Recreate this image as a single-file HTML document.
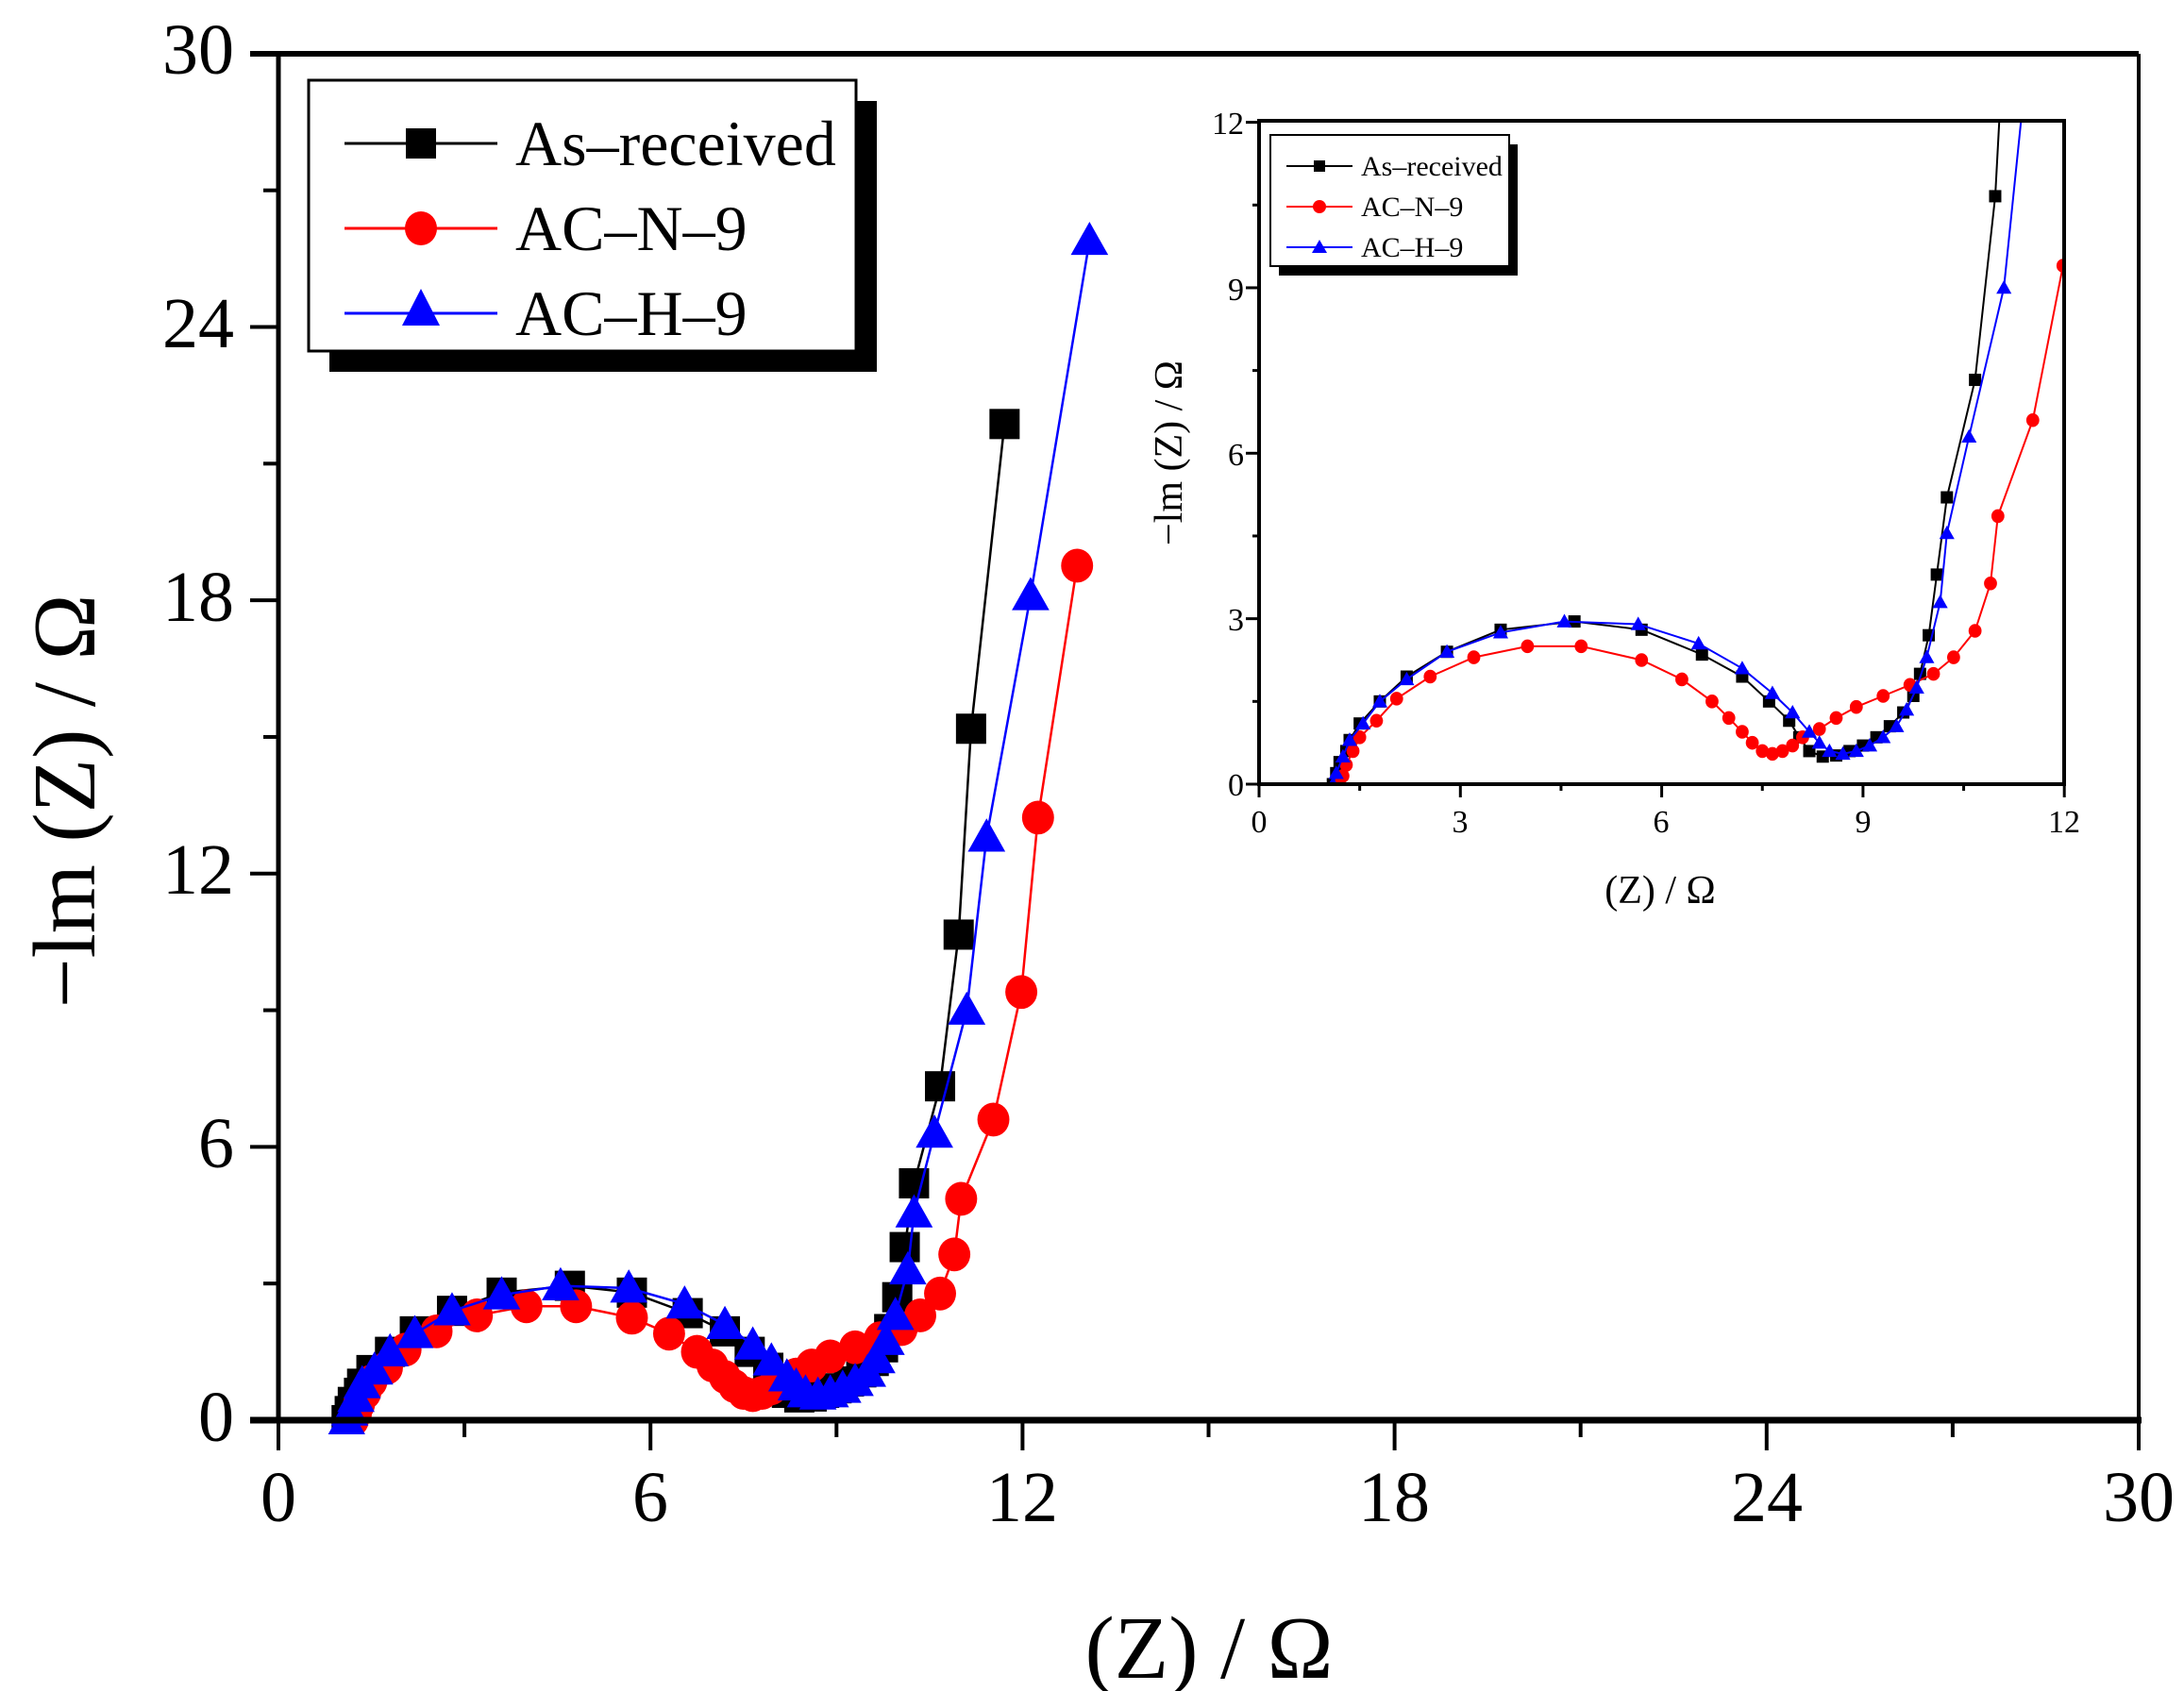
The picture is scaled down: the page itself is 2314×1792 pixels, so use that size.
<!DOCTYPE html>
<html><head><meta charset="utf-8"><style>
html,body{margin:0;padding:0;background:#fff}
svg{display:block}
text{font-family:"Liberation Serif",serif}
</style></head><body>
<svg id="s" width="2314" height="1792" viewBox="0 0 2314 1792" xmlns="http://www.w3.org/2000/svg">
<defs>
<clipPath id="mc"><rect x="295" y="40" width="1971" height="1480"/></clipPath>
<clipPath id="ic"><rect x="1334" y="128" width="853" height="703"/></clipPath>
</defs>
<g id="main"></g>
<!-- main axes -->
<g stroke="#000" fill="none">
<line x1="265" y1="57" x2="2266" y2="57" stroke-width="6"/>
<line x1="295" y1="57" x2="295" y2="1508" stroke-width="5"/>
<line x1="2266" y1="57" x2="2266" y2="1508" stroke-width="4"/>
<line x1="265" y1="1505" x2="2269" y2="1505" stroke-width="7"/>
</g>
<g id="mticks" stroke="#000" stroke-width="4"></g>
<g font-size="76" fill="#000" text-anchor="end">
<text x="248" y="78">30</text><text x="248" y="368">24</text><text x="248" y="658">18</text>
<text x="248" y="947">12</text><text x="248" y="1237">6</text><text x="248" y="1527">0</text>
</g>
<g font-size="76" fill="#000" text-anchor="middle">
<text x="295" y="1612">0</text><text x="689" y="1612">6</text><text x="1083" y="1612">12</text>
<text x="1477" y="1612">18</text><text x="1872" y="1612">24</text><text x="2266" y="1612">30</text>
</g>
<text x="1281" y="1778" font-size="94" text-anchor="middle">(Z) / Ω</text>
<text transform="translate(100,849) rotate(-90)" font-size="94" text-anchor="middle">−lm (Z) / Ω</text>
<!-- main legend -->
<rect x="349" y="107" width="580" height="287" fill="#000"/>
<rect x="327" y="85" width="580" height="287" fill="#fff" stroke="#000" stroke-width="3"/>
<line x1="365" y1="152" x2="527" y2="152" stroke="#000" stroke-width="3"/>
<rect x="430" y="136" width="32" height="32" fill="#000"/>
<line x1="365" y1="242" x2="527" y2="242" stroke="#f00" stroke-width="3"/>
<ellipse cx="446" cy="242" rx="17" ry="18" fill="#f00"/>
<line x1="365" y1="332" x2="527" y2="332" stroke="#00f" stroke-width="3"/>
<polygon points="446,306 466,345 426,345" fill="#00f"/>
<g font-size="68" fill="#000">
<text x="546" y="175">As–received</text>
<text x="546" y="265">AC–N–9</text>
<text x="546" y="355">AC–H–9</text>
</g>
<!-- inset -->
<g id="inset"></g>
<rect x="1334" y="128" width="853" height="703" fill="none" stroke="#000" stroke-width="4"/>
<g id="iticks" stroke="#000" stroke-width="3"></g>
<g font-size="34" fill="#000" text-anchor="end">
<text x="1318" y="142">12</text><text x="1318" y="318">9</text><text x="1318" y="493">6</text>
<text x="1318" y="668">3</text><text x="1318" y="843">0</text>
</g>
<g font-size="34" fill="#000" text-anchor="middle">
<text x="1334" y="882">0</text><text x="1547" y="882">3</text><text x="1760" y="882">6</text>
<text x="1974" y="882">9</text><text x="2187" y="882">12</text>
</g>
<text x="1759" y="957" font-size="42" text-anchor="middle">(Z) / Ω</text>
<text transform="translate(1252,480) rotate(-90)" font-size="42" text-anchor="middle">−lm (Z) / Ω</text>
<rect x="1355" y="153" width="253" height="139" fill="#000"/>
<rect x="1346" y="143" width="253" height="139" fill="#fff" stroke="#000" stroke-width="2"/>
<line x1="1363" y1="176" x2="1433" y2="176" stroke="#000" stroke-width="2"/>
<rect x="1392" y="170" width="12" height="12" fill="#000"/>
<line x1="1363" y1="219" x2="1433" y2="219" stroke="#f00" stroke-width="2"/>
<circle cx="1398" cy="219" r="7" fill="#f00"/>
<line x1="1363" y1="262" x2="1433" y2="262" stroke="#00f" stroke-width="2"/>
<polygon points="1398,254 1406,268 1390,268" fill="#00f"/>
<g font-size="30" fill="#000">
<text x="1442" y="186">As–received</text>
<text x="1442" y="229">AC–N–9</text>
<text x="1442" y="272">AC–H–9</text>
</g>
</svg>
<script>
var NS="http://www.w3.org/2000/svg";
function el(p,n,a){var e=document.createElementNS(NS,n);for(var k in a)e.setAttribute(k,a[k]);p.appendChild(e);return e;}
var black=[[1.1,0],[1.15,.2],[1.2,.4],[1.3,.6],[1.35,.8],[1.5,1.1],[1.8,1.5],[2.2,1.95],[2.8,2.4],[3.6,2.8],[4.7,2.95],[5.7,2.8],[6.6,2.35],[7.2,1.95],[7.6,1.5],[7.9,1.15],[8.05,.85],[8.2,.6],[8.4,.5],[8.6,.52],[8.8,.6],[9.0,.7],[9.2,.85],[9.4,1.05],[9.6,1.3],[9.75,1.6],[9.85,2.0],[9.98,2.7],[10.1,3.8],[10.25,5.2],[10.67,7.33],[10.97,10.66],[11.17,15.18],[11.71,21.87]];
var red=[[1.2,0],[1.25,.15],[1.3,.35],[1.4,.6],[1.5,.85],[1.75,1.15],[2.05,1.55],[2.55,1.95],[3.2,2.3],[4.0,2.5],[4.8,2.5],[5.7,2.25],[6.3,1.9],[6.75,1.5],[7.0,1.2],[7.2,.95],[7.35,.75],[7.5,.6],[7.65,.55],[7.8,.6],[7.95,.7],[8.1,.85],[8.35,1.0],[8.6,1.2],[8.9,1.4],[9.3,1.6],[9.7,1.8],[10.05,2.0],[10.35,2.3],[10.67,2.78],[10.9,3.64],[11.01,4.86],[11.53,6.6],[11.98,9.4],[12.25,13.23],[12.88,18.76]];
var blue=[[1.1,0],[1.15,.2],[1.25,.5],[1.35,.8],[1.55,1.1],[1.8,1.5],[2.2,1.9],[2.8,2.4],[3.6,2.75],[4.55,2.95],[5.65,2.9],[6.55,2.55],[7.2,2.1],[7.65,1.65],[7.95,1.3],[8.2,.95],[8.35,.75],[8.5,.6],[8.7,.55],[8.9,.6],[9.1,.7],[9.3,.85],[9.5,1.05],[9.65,1.35],[9.8,1.75],[9.95,2.3],[10.15,3.3],[10.25,4.55],[10.58,6.3],[11.1,9.0],[11.42,12.8],[12.13,18.1],[13.08,25.9]];
function draw(g,clip,X,Y,sz,lw){
 var G=el(g,"g",{"clip-path":"url(#"+clip+")"});
 [[black,"#000","s"],[red,"#f00","c"],[blue,"#00f","t"]].forEach(function(s){
  var pts=s[0].map(function(p){return X(p[0]).toFixed(1)+","+Y(p[1]).toFixed(1)}).join(" ");
  el(G,"polyline",{points:pts,fill:"none",stroke:s[1],"stroke-width":lw});
  s[0].forEach(function(p){var x=X(p[0]),y=Y(p[1]);
   if(s[2]=="s")el(G,"rect",{x:x-sz/2,y:y-sz/2,width:sz,height:sz,fill:s[1]});
   else if(s[2]=="c")el(G,"ellipse",{cx:x,cy:y,rx:sz*0.53,ry:sz*0.56,fill:s[1]});
   else el(G,"polygon",{points:x+","+(y-sz*0.62)+" "+(x+sz*0.62)+","+(y+sz*0.48)+" "+(x-sz*0.62)+","+(y+sz*0.48),fill:s[1]});
  });
 });
}
draw(document.getElementById("main"),"mc",function(v){return 295+v*65.7},function(v){return 1505-v*48.27},32,2.5);
draw(document.getElementById("inset"),"ic",function(v){return 1334+v*71.1},function(v){return 831-v*58.45},13,2);
var mt=document.getElementById("mticks");
for(var v=0;v<=30;v+=3){var y=1505-v*48.27,L=(v%6==0)?30:16;el(mt,"line",{x1:295-L,y1:y,x2:295,y2:y});
 var x=295+v*65.7;el(mt,"line",{x1:x,y1:1505,x2:x,y2:1505+L+2});}
var it=document.getElementById("iticks");
for(var v=0;v<=12;v+=1.5){var y=831-v*58.45,L=(v%3==0)?14:7;el(it,"line",{x1:1334-L,y1:y,x2:1334,y2:y});
 var x=1334+v*71.1;el(it,"line",{x1:x,y1:831,x2:x,y2:831+L});}
</script>
</body></html>
